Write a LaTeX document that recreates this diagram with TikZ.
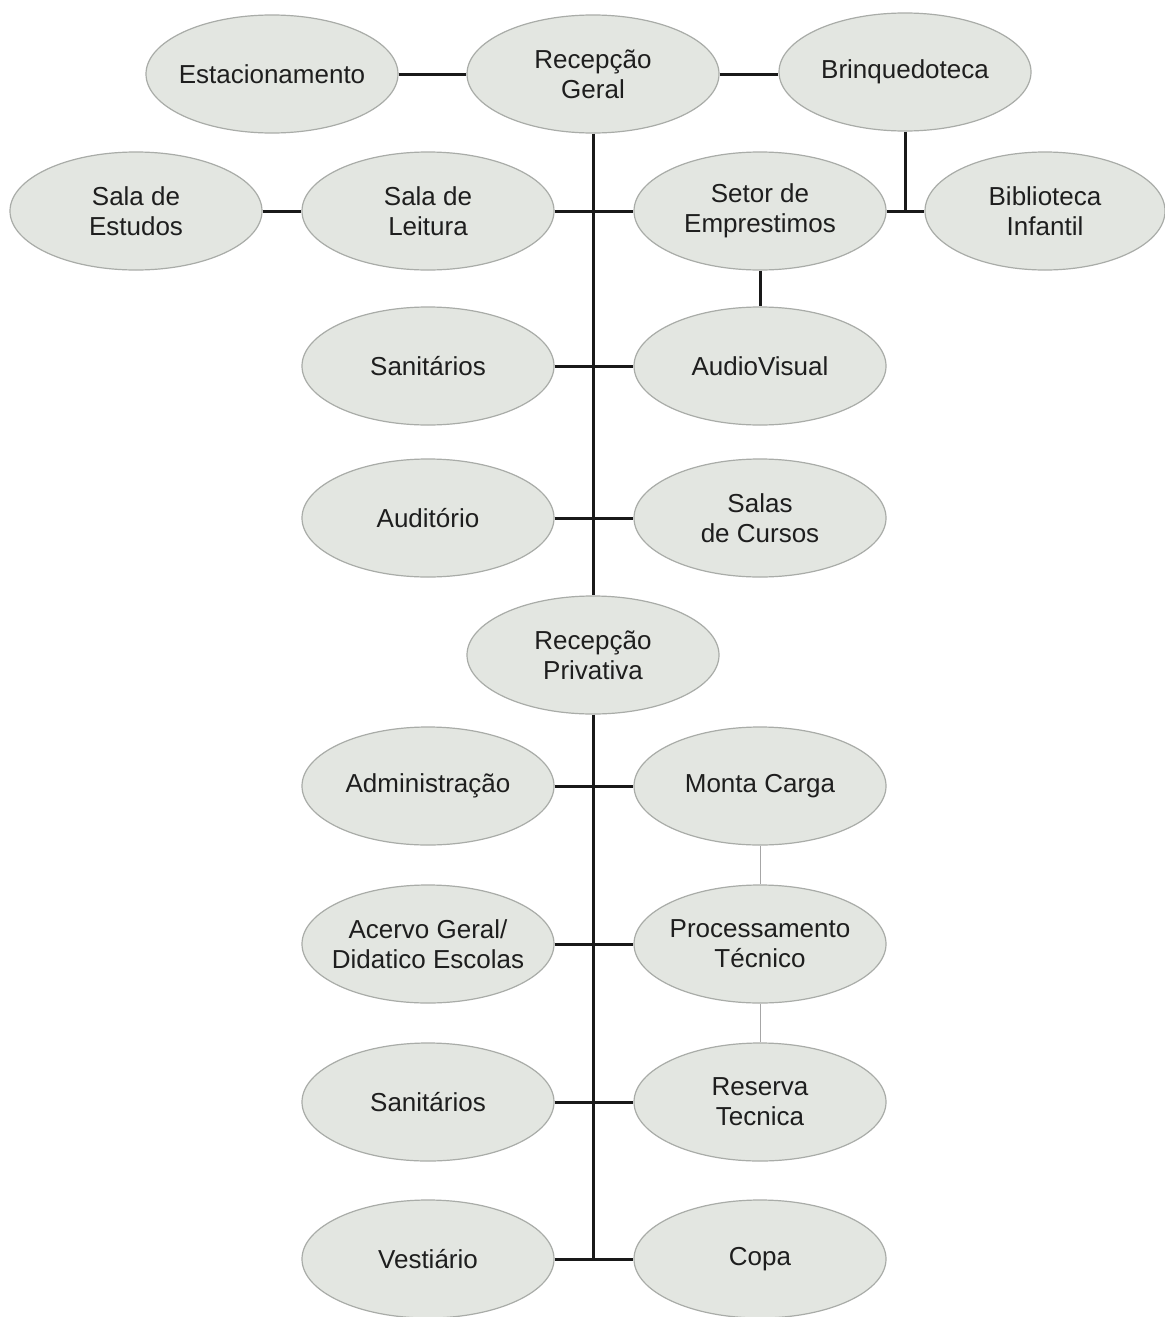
\documentclass[tikz,border=0pt]{standalone}
\usepackage{fontspec}
\setmainfont{Liberation Sans}
\usetikzlibrary{shapes.geometric}
\definecolor{bubblefill}{HTML}{E3E6E1}
\definecolor{bubbleedge}{HTML}{A9ACA8}
\definecolor{inktext}{HTML}{1E1E1E}
\begin{document}
\begin{tikzpicture}[x=0.5pt,y=-0.5pt,
  room/.style={ellipse, draw=bubbleedge, line width=0.6pt, fill=bubblefill,
    minimum width=126pt, minimum height=59pt, inner xsep=-14pt, inner ysep=0pt,
    align=center, text=inktext, font=\fontsize{13}{15}\selectfont},
  link/.style={draw=black!90, line width=1.5pt},
  faint/.style={draw=black!35, line width=0.5pt}]
\useasboundingbox (0,0) rectangle (1165,1317);
\fill[white] (0,0) rectangle (1165,1317);
% nodes
\node[room] (est)  at (272,74)  {Estacionamento};
\node[room] (rg)   at (593,74)  {Recepção\\Geral};
\node[room] (brq)  at (905,72)  {Brinquedoteca};
\node[room] (se)   at (136,211) {Sala de\\Estudos};
\node[room] (sl)   at (428,211) {Sala de\\Leitura};
\node[room] (sem)  at (760,211) {Setor de\\Emprestimos};
\node[room, minimum width=120pt] (bi) at (1045,211) {Biblioteca\\Infantil};
\node[room] (san1) at (428,366) {Sanitários};
\node[room] (av)   at (760,366) {AudioVisual};
\node[room] (aud)  at (428,518) {Auditório};
\node[room] (sc)   at (760,518) {Salas\\de Cursos};
\node[room] (rp)   at (593,655) {Recepção\\Privativa};
\node[room] (adm)  at (428,786) {Administração};
\node[room] (mc)   at (760,786) {Monta Carga};
\node[room] (ac)   at (428,944) {Acervo Geral/\\Didatico Escolas};
\node[room] (pt)   at (760,944) {Processamento\\Técnico};
\node[room] (san2) at (428,1102) {Sanitários};
\node[room] (rt)   at (760,1102) {Reserva\\Tecnica};
\node[room] (ves)  at (428,1259) {Vestiário};
\node[room] (copa) at (760,1259) {Copa};
\coordinate (tb) at (rg |- ves);
% connectors
\draw[link] (est) -- (rg);
\draw[link] (rg.east) -- (brq.west |- rg.east);
\draw[link] (rg) -- (rp);
\draw[link] (rp.south) -- (tb);
\draw[link] (se) -- (sl);
\draw[link] (sl) -- (sem);
\draw[link] (sem) -- (bi);
\draw[link] (brq) -- (brq |- bi);
\draw[link] (sem) -- (av);
\draw[link] (san1) -- (av);
\draw[link] (aud) -- (sc);
\draw[link] (adm) -- (mc);
\draw[link] (ac) -- (pt);
\draw[link] (san2) -- (rt);
\draw[link] (ves) -- (copa);
\draw[faint] (mc) -- (pt);
\draw[faint] (pt) -- (rt);
\end{tikzpicture}
\end{document}
